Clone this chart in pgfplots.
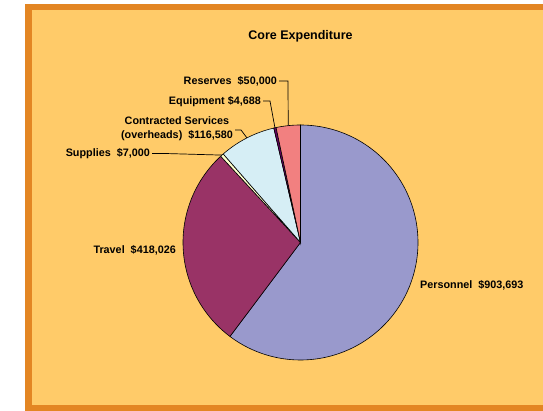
\documentclass[border=0pt]{standalone}
\usepackage{pgfplots}
\pgfplotsset{compat=1.18}
\usepackage{pgfplotstable}
\usepackage{fontspec}
\setmainfont{Liberation Sans}

\definecolor{frameor}{HTML}{E38623}
\definecolor{bgor}{HTML}{FFCB69}
\definecolor{cPers}{HTML}{9999CC}
\definecolor{cTrav}{HTML}{993366}
\definecolor{cSupp}{HTML}{FFFFCC}
\definecolor{cCont}{HTML}{D6EEF5}
\definecolor{cEqui}{HTML}{660066}
\definecolor{cRese}{HTML}{F28080}

\pgfplotstableread{
value
903693
418026
7000
116580
4688
50000
}\expdata

\pgfplotstablegetelem{0}{value}\of\expdata \edef\vA{\pgfplotsretval}%
\pgfplotstablegetelem{1}{value}\of\expdata \edef\vB{\pgfplotsretval}%
\pgfplotstablegetelem{2}{value}\of\expdata \edef\vC{\pgfplotsretval}%
\pgfplotstablegetelem{3}{value}\of\expdata \edef\vD{\pgfplotsretval}%
\pgfplotstablegetelem{4}{value}\of\expdata \edef\vE{\pgfplotsretval}%
\pgfplotstablegetelem{5}{value}\of\expdata \edef\vF{\pgfplotsretval}%
\edef\tot{\fpeval{\vA+\vB+\vC+\vD+\vE+\vF}}%
\edef\aZ{90}%
\edef\aA{\fpeval{round(\aZ-360*\vA/\tot,4)}}%
\edef\aB{\fpeval{round(\aA-360*\vB/\tot,4)}}%
\edef\aC{\fpeval{round(\aB-360*\vC/\tot,4)}}%
\edef\aD{\fpeval{round(\aC-360*\vD/\tot,4)}}%
\edef\aE{\fpeval{round(\aD-360*\vE/\tot,4)}}%
\edef\aF{\fpeval{round(\aE-360*\vF/\tot,4)}}%
\edef\mC{\fpeval{round((\aB+\aC)/2,4)}}%
\edef\mD{\fpeval{round((\aC+\aD)/2,4)}}%
\edef\mE{\fpeval{round((\aD+\aE)/2,4)}}%
\edef\mF{\fpeval{round((\aE+\aF)/2,4)}}%
\def\cx{300.5}\def\cy{168.5}\def\R{117.5}%

\begin{document}
\begin{tikzpicture}[x=1pt,y=1pt]
\fill[white] (0,0) rectangle (543,411);
\fill[frameor] (25,0) rectangle (543,406.5);
\fill[bgor] (31.5,5.5) rectangle (543,400.5);
\begin{axis}[at={(0pt,0pt)}, anchor=south west, scale only axis,
  width=543pt, height=411pt, xmin=0, xmax=543, ymin=0, ymax=411,
  hide axis, clip=false]
\addplot[fill=cPers, draw=black, line width=0.6pt, domain=\aA:\aZ, samples=150, variable=\t]
  ({\cx+\R*cos(\t)},{\cy+\R*sin(\t)}) -- (axis cs:\cx,\cy) -- cycle;
\addplot[fill=cTrav, draw=black, line width=0.6pt, domain=\aB:\aA, samples=80, variable=\t]
  ({\cx+\R*cos(\t)},{\cy+\R*sin(\t)}) -- (axis cs:\cx,\cy) -- cycle;
\addplot[fill=cSupp, draw=black, line width=0.6pt, domain=\aC:\aB, samples=5, variable=\t]
  ({\cx+\R*cos(\t)},{\cy+\R*sin(\t)}) -- (axis cs:\cx,\cy) -- cycle;
\addplot[fill=cCont, draw=black, line width=0.6pt, domain=\aD:\aC, samples=30, variable=\t]
  ({\cx+\R*cos(\t)},{\cy+\R*sin(\t)}) -- (axis cs:\cx,\cy) -- cycle;
\addplot[fill=cEqui, draw=black, line width=0.6pt, domain=\aE:\aD, samples=5, variable=\t]
  ({\cx+\R*cos(\t)},{\cy+\R*sin(\t)}) -- (axis cs:\cx,\cy) -- cycle;
\addplot[fill=cRese, draw=black, line width=0.6pt, domain=\aF:\aE, samples=15, variable=\t]
  ({\cx+\R*cos(\t)},{\cy+\R*sin(\t)}) -- (axis cs:\cx,\cy) -- cycle;

% leader lines
\draw[line width=0.7pt] (axis cs:279,330) -- (axis cs:288,330) -- (axis cs:{\cx+\R*cos(\mF)},{\cy+\R*sin(\mF)});
\draw[line width=0.7pt] (axis cs:263,310) -- (axis cs:270,310) -- (axis cs:{\cx+\R*cos(\mE)},{\cy+\R*sin(\mE)});
\draw[line width=0.7pt] (axis cs:235,281) -- (axis cs:241,281) -- (axis cs:{\cx+\R*cos(\mD)},{\cy+\R*sin(\mD)});
\draw[line width=0.7pt] (axis cs:152,257.5) -- (axis cs:165,257.5) -- (axis cs:{\cx+\R*cos(\mC)},{\cy+\R*sin(\mC)});

% labels
\node[font=\fontsize{12.5}{15}\selectfont\bfseries] at (axis cs:300.5,375) {Core Expenditure};
\node[font=\fontsize{10.8}{13}\selectfont\bfseries, anchor=east, inner sep=1pt] at (axis cs:278,330) {Reserves~~\$50,000};
\node[font=\fontsize{10.8}{13}\selectfont\bfseries, anchor=east, inner sep=1pt] at (axis cs:262,309.5) {Equipment \$4,688};
\node[font=\fontsize{10.8}{14}\selectfont\bfseries, anchor=east, inner sep=1pt, align=center] at (axis cs:234,282) {Contracted Services\\(overheads)~~\$116,580};
\node[font=\fontsize{10.8}{13}\selectfont\bfseries, anchor=east, inner sep=1pt] at (axis cs:151,257.5) {Supplies~~\$7,000};
\node[font=\fontsize{10.8}{13}\selectfont\bfseries, anchor=east, inner sep=1pt] at (axis cs:177,160.5) {Travel~~\$418,026};
\node[font=\fontsize{10.8}{13}\selectfont\bfseries, anchor=west, inner sep=1pt] at (axis cs:419,126) {Personnel~~\$903,693};
\end{axis}
\pgfresetboundingbox
\path[use as bounding box] (0,0) rectangle (543,411);
\end{tikzpicture}
\end{document}
